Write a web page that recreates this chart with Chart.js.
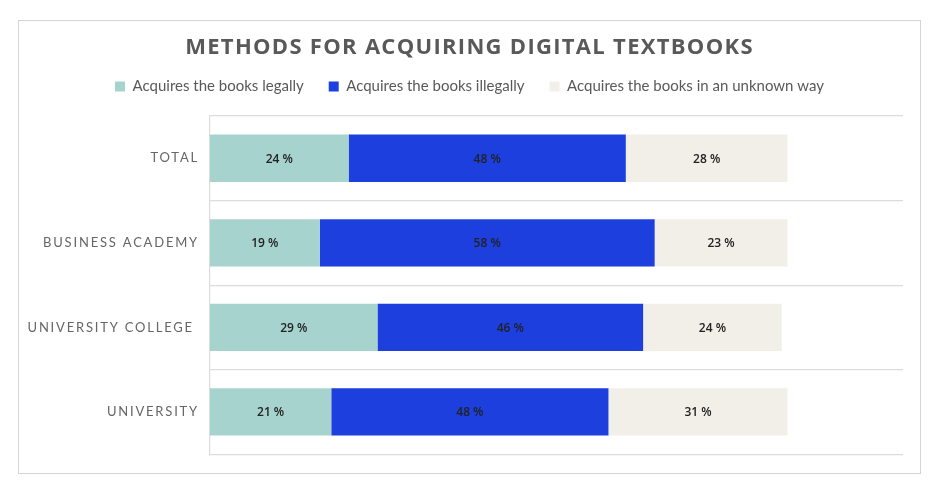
<!DOCTYPE html>
<html>
<head>
<meta charset="utf-8">
<script src="https://cdn.jsdelivr.net/npm/chart.js@4"></script>
<style>
  html, body { margin: 0; padding: 0; background: #fff; }
  #frame {
    position: absolute; left: 18px; top: 20px;
    width: 901px; height: 452px;
    border: 1px solid #d4d4d4;
  }
</style>
</head>
<body>
<div id="frame"><canvas id="chart"></canvas></div>
<script>
// Verdier lest av figuren (prosent)
const categories = ["TOTAL", "BUSINESS ACADEMY", "UNIVERSITY COLLEGE ", "UNIVERSITY"]
const legal = [24, 19, 29, 21]
const illegal = [48, 58, 46, 48]
const unknown = [28, 23, 24, 31]

const titleText = "METHODS FOR ACQUIRING DIGITAL TEXTBOOKS"
const seriesNames = [
  "Acquires the books legally",
  "Acquires the books illegally",
  "Acquires the books in an unknown way"
]
const colors = ["#a7d3cf", "#1d3fde", "#f2efe9"]

// Tallene midt i hvert segment. Etter datasettene slås sperring på for
// y-etikettene (de har z: 1 og tegnes derfor etterpå), og tittelen tegnes sist.
const spacedText = {
  id: "spacedText",
  afterDatasetsDraw(chart) {
    const ctx = chart.ctx
    ctx.save()
    ctx.letterSpacing = "0px"
    ctx.font = "600 12px 'Open Sans'"
    ctx.fillStyle = "#222"
    ctx.textAlign = "center"
    ctx.textBaseline = "middle"
    chart.data.datasets.forEach((ds, i) => {
      chart.getDatasetMeta(i).data.forEach((bar, j) => {
        const p = bar.getCenterPoint()
        ctx.fillText(`${ds.data[j]} %`, p.x, p.y + 1)
      })
    })
    ctx.restore()
    ctx.letterSpacing = "1.8px"
  },
  afterDraw(chart) {
    const ctx = chart.ctx
    ctx.save()
    ctx.letterSpacing = "1.3px"
    ctx.font = "bold 22px 'Open Sans'"
    ctx.fillStyle = "#595959"
    ctx.textAlign = "center"
    ctx.textBaseline = "middle"
    ctx.fillText(titleText, chart.width / 2, 27)
    ctx.restore()
    ctx.letterSpacing = "0px"
  }
}

const wrap = document.getElementById("frame")
const canvas = document.getElementById("chart")
canvas.style.width = wrap.clientWidth + "px"
canvas.style.height = wrap.clientHeight + "px"

new Chart(canvas, {
  type: "bar",
  data: {
    labels: categories,
    datasets: [legal, illegal, unknown].map((d, i) => ({
      label: seriesNames[i],
      data: d,
      backgroundColor: colors[i],
      borderWidth: 0,
      barPercentage: 0.56,
      categoryPercentage: 1
    }))
  },
  options: {
    indexAxis: "y",
    responsive: false,
    animation: false,
    layout: { padding: { left: 0, right: 0, bottom: 10, top: 33 } },
    plugins: {
      legend: {
        labels: {
          boxWidth: 10,
          boxHeight: 10,
          padding: 25,
          color: "#595959",
          font: { family: "Lato", size: 15 }
        }
      },
      tooltip: { enabled: false }
    },
    scales: {
      x: {
        stacked: true,
        min: 0,
        max: 120,
        position: "top",
        grid: { display: false },
        border: { display: false },
        ticks: { display: false },
        afterFit(scale) { scale.height = 12 }
      },
      y: {
        stacked: true,
        grid: { color: "#dcdcdc", lineWidth: 1.2, drawTicks: false },
        border: { color: "#dcdcdc", width: 1.2 },
        ticks: {
          z: 1,
          padding: 11,
          color: "#666",
          font: { family: "Lato", size: 13 }
        },
        afterFit(scale) { scale.width = 191 }
      },
      // tom akse til høyre, bare som luft mellom plottet og rammen
      yRight: {
        type: "category",
        position: "right",
        grid: { display: false },
        border: { display: false },
        ticks: { display: false },
        afterFit(scale) { scale.width = 17 }
      }
    }
  },
  plugins: [spacedText]
})
</script>
</body>
</html>
